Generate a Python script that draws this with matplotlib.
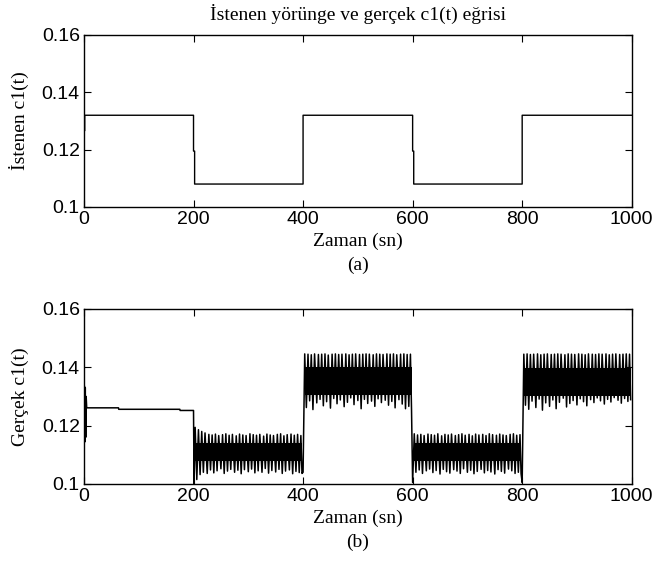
import numpy as np
import matplotlib.pyplot as plt

# =========================
# Data
# =========================
# (a) desired trajectory c1(t)
des_t = [0, 0.5, 1.0, 1.5, 200, 200, 202, 202, 400, 400, 600, 600, 602, 602, 800, 800, 1000]
des_v = [0.126, 0.132, 0.1265, 0.132, 0.132, 0.1195, 0.1195, 0.108, 0.108, 0.132,
         0.132, 0.1195, 0.1195, 0.108, 0.108, 0.132, 0.132]

# (b) actual c1(t): start-up part 0-200 s
start_t = [0, 0.8, 1.6, 2.4, 3.2, 4.0, 5.0, 63, 63.5, 175, 175.5, 200, 201]
start_v = [0.126, 0.1336, 0.1144, 0.1330, 0.1160, 0.1300, 0.1261, 0.1261, 0.1256,
           0.1256, 0.1252, 0.1252, 0.1000]

# oscillating segments
seg_start = [200, 400, 600, 800]
core_lo = [0.1077, 0.1306, 0.1077, 0.1300]
core_hi = [0.1140, 0.1400, 0.1140, 0.1398]
jump_v = [0.1000, 0.1040, 0.1005, 0.1005]   # value reached at the switching instant

# spike instants inside a 200 s segment (upper / lower peaks)
off_up = [3, 9, 15, 21, 28, 34, 40, 46, 53, 59, 65, 71, 78, 84, 90, 96,
          103, 109, 115, 121, 128, 134, 140, 146, 153, 159, 165, 171, 178, 184, 190, 196]
off_lo = [6, 12, 18, 25, 31, 37, 43, 50, 56, 62, 68, 75, 81, 87, 93, 100,
          106, 112, 118, 125, 131, 137, 143, 150, 156, 162, 168, 175, 181, 187, 193, 198]

up_a = [0.1194, 0.1186, 0.1180, 0.1175, 0.1170, 0.1168, 0.1171, 0.1166, 0.1169, 0.1172, 0.1167,
        0.1170, 0.1165, 0.1171, 0.1168, 0.1166, 0.1172, 0.1169, 0.1167, 0.1170, 0.1164, 0.1171,
        0.1168, 0.1166, 0.1170, 0.1172, 0.1165, 0.1169, 0.1171, 0.1167, 0.1170, 0.1166]
lo_a = [0.1015, 0.1032, 0.1040, 0.1036, 0.1048, 0.1038, 0.1045, 0.1052, 0.1036, 0.1044, 0.1050,
        0.1040, 0.1047, 0.1035, 0.1049, 0.1042, 0.1051, 0.1038, 0.1045, 0.1040, 0.1053, 0.1037,
        0.1046, 0.1041, 0.1050, 0.1036, 0.1044, 0.1048, 0.1035, 0.1043, 0.1039, 0.1036]
up_b = [0.1446, 0.1445, 0.1443, 0.1446, 0.1444, 0.1445, 0.1446, 0.1442, 0.1445, 0.1446, 0.1444,
        0.1445, 0.1446, 0.1443, 0.1445, 0.1446, 0.1444, 0.1445, 0.1446, 0.1445, 0.1443, 0.1446,
        0.1445, 0.1444, 0.1446, 0.1445, 0.1446, 0.1443, 0.1445, 0.1446, 0.1444, 0.1445]
lo_b = [0.1262, 0.1285, 0.1255, 0.1278, 0.1290, 0.1268, 0.1282, 0.1260, 0.1293, 0.1275, 0.1288,
        0.1265, 0.1280, 0.1295, 0.1272, 0.1286, 0.1258, 0.1290, 0.1276, 0.1284, 0.1266, 0.1292,
        0.1279, 0.1287, 0.1270, 0.1283, 0.1261, 0.1289, 0.1274, 0.1258, 0.1266, 0.1254]
up_c = [0.1172, 0.1168, 0.1170, 0.1166, 0.1171, 0.1169, 0.1167, 0.1172, 0.1165, 0.1170, 0.1168,
        0.1171, 0.1166, 0.1169, 0.1172, 0.1167, 0.1170, 0.1165, 0.1171, 0.1168, 0.1170, 0.1166,
        0.1172, 0.1169, 0.1167, 0.1171, 0.1168, 0.1166, 0.1170, 0.1172, 0.1167, 0.1169]
lo_c = [0.1040, 0.1048, 0.1036, 0.1045, 0.1051, 0.1039, 0.1046, 0.1034, 0.1050, 0.1042, 0.1037,
        0.1049, 0.1044, 0.1036, 0.1052, 0.1040, 0.1047, 0.1035, 0.1043, 0.1050, 0.1038, 0.1046,
        0.1041, 0.1034, 0.1049, 0.1043, 0.1037, 0.1051, 0.1045, 0.1036, 0.1040, 0.1035]
up_d = [0.1445, 0.1446, 0.1444, 0.1445, 0.1446, 0.1443, 0.1445, 0.1446, 0.1444, 0.1445, 0.1446,
        0.1445, 0.1443, 0.1446, 0.1445, 0.1444, 0.1446, 0.1445, 0.1443, 0.1446, 0.1445, 0.1444,
        0.1446, 0.1445, 0.1446, 0.1443, 0.1445, 0.1446, 0.1444, 0.1445, 0.1446, 0.1445]
lo_d = [0.1270, 0.1256, 0.1284, 0.1262, 0.1291, 0.1253, 0.1278, 0.1266, 0.1288, 0.1258, 0.1280,
        0.1294, 0.1264, 0.1276, 0.1286, 0.1271, 0.1292, 0.1282, 0.1268, 0.1289, 0.1279, 0.1295,
        0.1285, 0.1274, 0.1290, 0.1281, 0.1296, 0.1287, 0.1277, 0.1293, 0.1283, 0.1289]

up_tips = [up_a, up_b, up_c, up_d]
lo_tips = [lo_a, lo_b, lo_c, lo_d]

x_ticks = [0, 200, 400, 600, 800, 1000]
y_ticks = [0.1, 0.12, 0.14, 0.16]
y_ticklabels = ['0.1', '0.12', '0.14', '0.16']

# =========================
# build the actual c1(t) polyline
# =========================
act_t = list(start_t)
act_v = list(start_v)
for k, t0 in enumerate(seg_start):
    if k > 0:
        act_t.append(t0)
        act_v.append(jump_v[k])
    for i in range(len(off_up)):
        act_t += [t0 + off_up[i], t0 + off_lo[i]]
        act_v += [up_tips[k][i], lo_tips[k][i]]

# =========================
# figure
# =========================
serif = ['Liberation Serif', 'DejaVu Serif']
sans = ['Liberation Sans', 'DejaVu Sans']

fig = plt.figure(figsize=(6.56, 5.68), dpi=100)
ax1 = fig.add_axes([0.128, 0.6356, 0.835, 0.3028])
ax2 = fig.add_axes([0.128, 0.148, 0.835, 0.308])

ax1.plot(des_t, des_v, color='black', lw=1.0)
ax2.plot(act_t, act_v, color='black', lw=1.1)
for k, t0 in enumerate(seg_start):
    ax2.fill_between([t0 + off_up[0], t0 + off_lo[-1]], core_lo[k], core_hi[k],
                     color='black', lw=0)

ax1.set_title('İstenen yörünge ve gerçek c1(t) eğrisi', family=serif, fontsize=14, pad=11)
ax1.set_ylabel('İstenen c1(t)', family=serif, fontsize=14, labelpad=9)
ax2.set_ylabel('Gerçek c1(t)', family=serif, fontsize=14, labelpad=9)
ax1.set_xlabel('Zaman (sn)\n(a)', family=serif, fontsize=14, labelpad=3, linespacing=1.55)
ax2.set_xlabel('Zaman (sn)\n(b)', family=serif, fontsize=14, labelpad=3, linespacing=1.55)

for ax in (ax1, ax2):
    ax.set_xlim(0, 1000)
    ax.set_ylim(0.1, 0.16)
    ax.set_xticks(x_ticks)
    ax.set_yticks(y_ticks)
    ax.set_yticklabels(y_ticklabels)
    ax.tick_params(direction='in', length=5, width=0.8, top=True, right=True,
                   labelsize=14, pad=3)
    for lab in ax.get_xticklabels() + ax.get_yticklabels():
        lab.set_family(sans)
    for sp in ax.spines.values():
        sp.set_linewidth(1.0)

fig.savefig('out.png', dpi=100)
